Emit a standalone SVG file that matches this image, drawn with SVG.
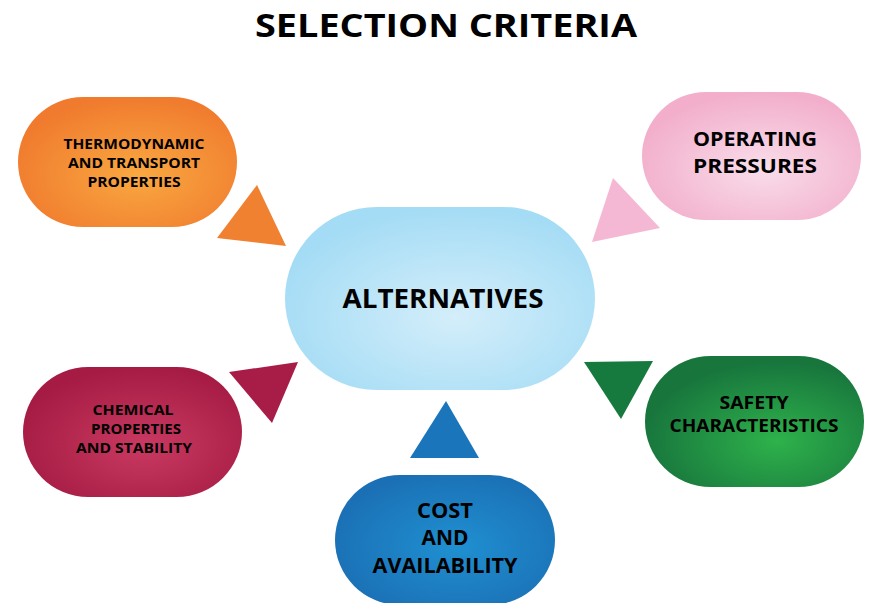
<svg xmlns="http://www.w3.org/2000/svg" width="869" height="603" viewBox="0 0 869 603">
<defs>
<radialGradient id="gOrange" cx="0.55" cy="0.6" r="0.6"><stop offset="0" stop-color="#F9A841"/><stop offset="1" stop-color="#F07B2E"/></radialGradient>
<radialGradient id="gPink" cx="0.55" cy="0.6" r="0.6"><stop offset="0" stop-color="#F9DDEA"/><stop offset="1" stop-color="#F2AECB"/></radialGradient>
<radialGradient id="gCrimson" cx="0.55" cy="0.6" r="0.6"><stop offset="0" stop-color="#C93A62"/><stop offset="1" stop-color="#A51B43"/></radialGradient>
<radialGradient id="gGreen" cx="0.6" cy="0.65" r="0.6"><stop offset="0" stop-color="#2EB24B"/><stop offset="1" stop-color="#18763D"/></radialGradient>
<radialGradient id="gBlue" cx="0.55" cy="0.55" r="0.6"><stop offset="0" stop-color="#1F90D1"/><stop offset="1" stop-color="#1B6FB4"/></radialGradient>
<radialGradient id="gLight" cx="0.55" cy="0.6" r="0.6"><stop offset="0" stop-color="#D4EEFA"/><stop offset="1" stop-color="#A4DCF5"/></radialGradient>
</defs>
<style>
text{font-family:"Open Sans","Liberation Sans",sans-serif;font-weight:700;fill:#000;text-anchor:middle}
.s15{font-size:15px}
.s17{font-size:18px}
.s19{font-size:19.5px}
.s20{font-size:20.5px}
.title{font-size:32.5px}
.alt{font-size:27.5px}
</style>
<text class="title" x="446" y="37" textLength="382" lengthAdjust="spacingAndGlyphs">SELECTION CRITERIA</text>
<g id="connectors">
<polygon points="257,185 217,238 286,246" fill="#F08131"/>
<polygon points="613,178 592,242 660,228" fill="#F5B8D4"/>
<polygon points="229,372 298,362 272,423" fill="#A81D48"/>
<polygon points="584,362 653,361 621,419" fill="#167A3F"/>
<polygon points="446,401 410,458 479,458" fill="#1B75BB"/>
</g>
<g id="alternatives">
<rect x="285" y="207" width="310" height="183" rx="91.5" fill="url(#gLight)"/>
<text class="alt" x="443" y="308" textLength="201" lengthAdjust="spacingAndGlyphs">ALTERNATIVES</text>
</g>
<g id="thermodynamic">
<rect x="18" y="97" width="219" height="130" rx="65" fill="url(#gOrange)"/>
<text class="s15" x="134" y="149" textLength="141" lengthAdjust="spacingAndGlyphs">THERMODYNAMIC</text>
<text class="s15" x="134" y="168" textLength="132" lengthAdjust="spacingAndGlyphs">AND TRANSPORT</text>
<text class="s15" x="134" y="187" textLength="93" lengthAdjust="spacingAndGlyphs">PROPERTIES</text>
</g>
<g id="operating">
<rect x="642" y="92" width="219" height="128" rx="64" fill="url(#gPink)"/>
<text class="s19" x="755" y="146" textLength="124" lengthAdjust="spacingAndGlyphs">OPERATING</text>
<text class="s19" x="755" y="173" textLength="124" lengthAdjust="spacingAndGlyphs">PRESSURES</text>
</g>
<g id="chemical">
<rect x="23" y="367" width="219" height="130" rx="65" fill="url(#gCrimson)"/>
<text class="s15" x="133" y="415" textLength="81" lengthAdjust="spacingAndGlyphs">CHEMICAL</text>
<text class="s15" x="136" y="434" textLength="90" lengthAdjust="spacingAndGlyphs">PROPERTIES</text>
<text class="s15" x="134" y="453" textLength="116" lengthAdjust="spacingAndGlyphs">AND STABILITY</text>
</g>
<g id="safety">
<rect x="645" y="356" width="219" height="131" rx="65.5" fill="url(#gGreen)"/>
<text class="s17" x="754" y="409" textLength="69" lengthAdjust="spacingAndGlyphs">SAFETY</text>
<text class="s17" x="754" y="432" textLength="169" lengthAdjust="spacingAndGlyphs">CHARACTERISTICS</text>
</g>
<g id="cost">
<rect x="335" y="475" width="220" height="130" rx="65" fill="url(#gBlue)"/>
<text class="s20" x="445" y="518" textLength="56" lengthAdjust="spacingAndGlyphs">COST</text>
<text class="s20" x="445" y="545" textLength="47" lengthAdjust="spacingAndGlyphs">AND</text>
<text class="s20" x="445" y="573" textLength="145" lengthAdjust="spacingAndGlyphs">AVAILABILITY</text>
</g>
</svg>
